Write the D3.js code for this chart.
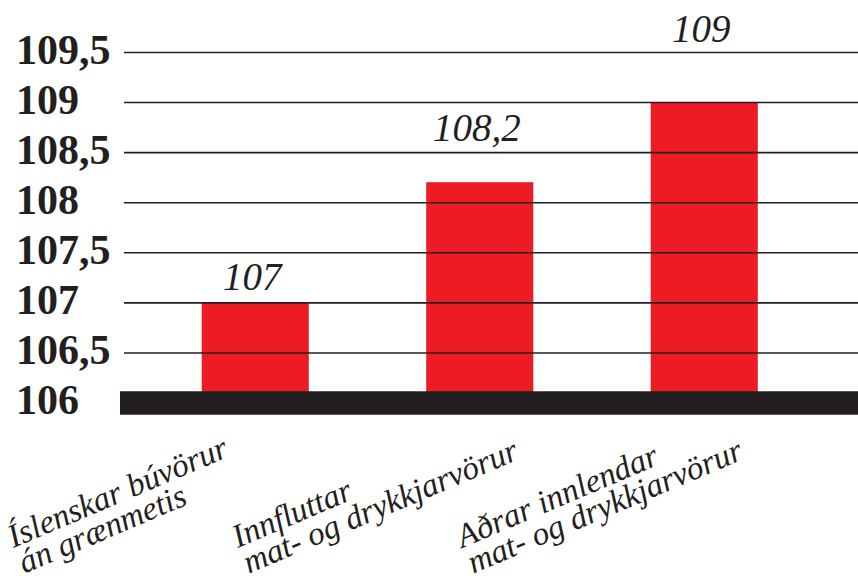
<!DOCTYPE html>
<html>
<head>
<meta charset="utf-8">
<script src="https://cdn.jsdelivr.net/npm/d3@7"></script>
<style>
  html, body { margin: 0; padding: 0; background: #fff; }
  svg { display: block; }
</style>
</head>
<body>
<svg id="chart" width="858" height="585"></svg>
<script>
const categories = [
  ["Íslenskar búvörur", "án grænmetis"],
  ["Innfluttar", "mat- og drykkjarvörur"],
  ["Aðrar innlendar", "mat- og drykkjarvörur"]
];
const values = [107, 108.2, 109];
const valueLabels = ["107", "108,2", "109"];
const tickValues = [106, 106.5, 107, 107.5, 108, 108.5, 109, 109.5];
const tickLabels = ["106", "106,5", "107", "107,5", "108", "108,5", "109", "109,5"];

const RED = "#ed1c24";
const INK = "#231f20";
const W = 858, H = 585;
const svg = d3.select("#chart");

const y = d3.scaleLinear().domain([106, 109.5]).range([402.5, 52]);
const x = d3.scaleBand().domain(d3.range(categories.length))
  .range([143, 816.5]).paddingInner(0.523).paddingOuter(0.2615);
// value labels sit progressively higher above the bars in the original
const labelY = d3.scaleLinear().domain([106, 109.5]).range([414, -20]);

// bars
svg.append("g").selectAll("rect").data(values).join("rect")
  .attr("x", (d, i) => x(i))
  .attr("width", x.bandwidth())
  .attr("y", d => y(d))
  .attr("height", d => y(106) - y(d))
  .attr("fill", RED);

// gridlines (over bars)
const grid = svg.append("g").attr("transform", "translate(124,0)")
  .call(d3.axisRight(y).tickValues(tickValues.slice(1)).tickSize(W - 124).tickFormat(""));
grid.select(".domain").remove();
grid.selectAll(".tick line").attr("stroke", INK).attr("stroke-width", 1.6);

// thick baseline band
svg.append("line")
  .attr("x1", 120).attr("x2", W)
  .attr("y1", y(106) + 0.5).attr("y2", y(106) + 0.5)
  .attr("stroke", INK).attr("stroke-width", 23.5);

// y tick labels
const yAxis = svg.append("g").attr("transform", "translate(16,0)")
  .call(d3.axisRight(y).tickValues(tickValues).tickSize(0).tickPadding(0)
    .tickFormat((d, i) => tickLabels[i]));
yAxis.select(".domain").remove();
yAxis.selectAll(".tick text")
  .attr("dy", 11)
  .attr("fill", INK)
  .style("font-family", "'Liberation Serif', serif")
  .style("font-weight", "bold")
  .style("font-size", "42px");

// value labels
svg.append("g").selectAll("text").data(values).join("text")
  .attr("x", (d, i) => x(i) + x.bandwidth() / 2 - 3)
  .attr("y", d => labelY(d))
  .attr("text-anchor", "middle")
  .attr("fill", INK)
  .style("font-family", "'Liberation Serif', serif")
  .style("font-style", "italic")
  .style("font-size", "39px")
  .text((d, i) => valueLabels[i]);

// category labels (rotated, two lines)
const catG = svg.append("g").selectAll("g").data(categories).join("g")
  .attr("transform", (d, i) => `translate(${x(i) + x.bandwidth() / 2 - 242},548) rotate(-23)`);
catG.selectAll("text").data(d => d).join("text")
  .attr("x", 0)
  .attr("y", (d, j) => j * 28)
  .attr("fill", INK)
  .style("font-family", "'Liberation Serif', serif")
  .style("font-style", "italic")
  .style("font-size", "33px")
  .text(d => d);
</script>
</body>
</html>
